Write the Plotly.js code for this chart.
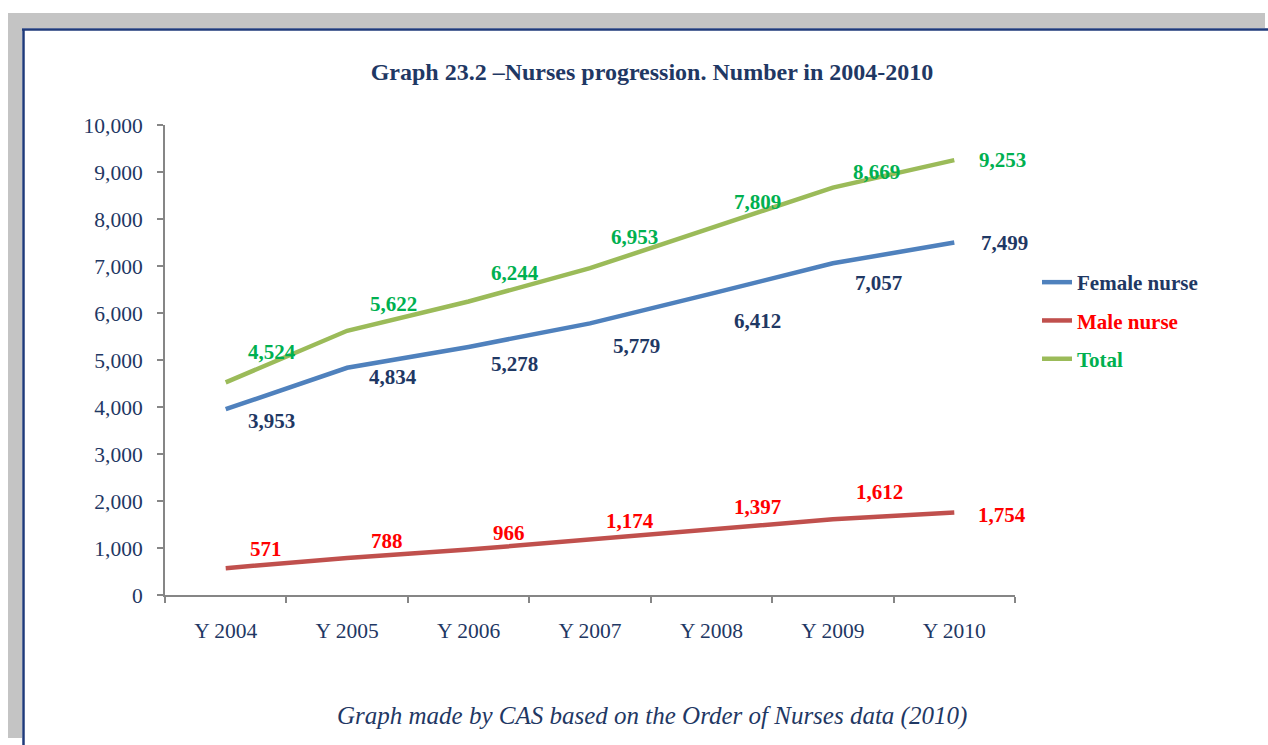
<!DOCTYPE html>
<html>
<head>
<meta charset="utf-8">
<script src="https://cdn.plot.ly/plotly-3.0.1.min.js"></script>
<style>
html,body{margin:0;padding:0;background:#fff;}
#chart{width:1268px;height:745px;}
</style>
</head>
<body>
<div id="chart"></div>
<script>
// ---- data ----
const years = ["Y 2004","Y 2005","Y 2006","Y 2007","Y 2008","Y 2009","Y 2010"];
const female = [3953,4834,5278,5779,6412,7057,7499];
const male = [571,788,966,1174,1397,1612,1754];
const total = [4524,5622,6244,6953,7809,8669,9253];
const seriesNames = ["Female nurse","Male nurse","Total"];
const titleText = "Graph 23.2 \u2013Nurses progression. Number in 2004-2010";
const captionText = "Graph made by CAS based on the Order of Nurses data (2010)";

// ---- styles ----
const W = 1268, H = 745;
const M = {l:165, r:253, t:125, b:150};
const PW = W - M.l - M.r, PH = H - M.t - M.b;
const px = v => (v - M.l) / PW;
const py = v => (H - M.b - v) / PH;
const NAVY = "#1F3864";
const lineColors = ["#4F81BD","#C0504D","#9BBB59"];
const labelColors = ["#1F3864","#FF0000","#00B050"];
const FONT = "Liberation Serif, Times New Roman, serif";

const seriesData = [female, male, total];
const traces = seriesData.map((d,i)=>({
  type:"scatter", mode:"lines", x:years, y:d,
  name: i===0 ? seriesNames[i] : '<span style="color:'+labelColors[i]+'">'+seriesNames[i]+'</span>',
  legendgroup: "g"+i,
  line:{color:lineColors[i], width:4.5},
  hoverinfo:"skip"
}));

// label offsets (pixels) relative to each point
const shiftX = [[46,46,46,46,46,46,50],[40,40,40,40,46,47,48],[46,46,46,44,46,44,48]];
const shiftY = [[-12,-9,-17,-23,-27,-20,0],[19,17,17,19,22,27,-2],[30,27,29,31,26,16,0]];
const annotations = [];
seriesData.forEach((d,i)=>{
  d.forEach((v,j)=>{
    annotations.push({
      x: years[j], y: v, xref:"x", yref:"y",
      text: v.toLocaleString("en-US"), showarrow:false,
      xshift: shiftX[i][j], yshift: shiftY[i][j],
      font:{family:FONT, size:21, color:labelColors[i], weight:"bold"}
    });
  });
});
annotations.push({
  text: captionText, showarrow:false, xref:"paper", yref:"paper",
  x: px(652), y: py(716), xanchor:"center", yanchor:"middle",
  font:{family:FONT, size:25, color:NAVY, style:"italic"}
});

const shapes = [
  // grey hatched band top & left
  {type:"rect", xref:"paper", yref:"paper", x0:px(8), x1:px(1265), y0:py(13), y1:py(28), fillcolor:"#C4C4C4", line:{width:0}, layer:"below"},
  {type:"rect", xref:"paper", yref:"paper", x0:px(8), x1:px(22), y0:py(13), y1:py(738), fillcolor:"#C4C4C4", line:{width:0}, layer:"below"},
  // navy frame lines
  {type:"line", xref:"paper", yref:"paper", x0:px(22), x1:px(1268), y0:py(29.5), y1:py(29.5), line:{color:"#1F3A7A", width:2.5}},
  {type:"line", xref:"paper", yref:"paper", x0:px(23.5), x1:px(23.5), y0:py(29), y1:py(745), line:{color:"#1F3A7A", width:2.5}}
];

const layout = {
  width:W, height:H, margin:M,
  paper_bgcolor:"#fff", plot_bgcolor:"#fff",
  showlegend:true,
  title:{text:"<b>"+titleText+"</b>", xref:"container", yref:"container", x:652/W, y:1-72/H, xanchor:"center", yanchor:"middle",
         font:{family:FONT, size:24, color:NAVY}},
  xaxis:{type:"category", range:[-0.5,6.5], showgrid:false, zeroline:false, showline:true, linecolor:"#868686", linewidth:2,
         ticks:"outside", tickson:"boundaries", ticklen:6, tickwidth:2, tickcolor:"#868686",
         tickfont:{family:FONT, size:21.5, color:NAVY}, ticklabelstandoff:15, fixedrange:true},
  yaxis:{range:[0,10000], dtick:1000, tickformat:",d", showgrid:false, zeroline:false, showline:true,
         linecolor:"#868686", linewidth:2, ticks:"outside", ticklen:6, tickwidth:2, tickcolor:"#868686",
         tickfont:{family:FONT, size:21.5, color:NAVY}, ticklabelstandoff:10, fixedrange:true},
  legend:{x:px(1037), y:py(262), xanchor:"left", yanchor:"top", traceorder:"grouped", tracegroupgap:8,
          font:{family:FONT, size:21, color:NAVY, weight:"bold"}, bgcolor:"rgba(0,0,0,0)"},
  annotations: annotations,
  shapes: shapes
};

Plotly.newPlot("chart", traces, layout, {displayModeBar:false, staticPlot:true});
</script>
</body>
</html>
